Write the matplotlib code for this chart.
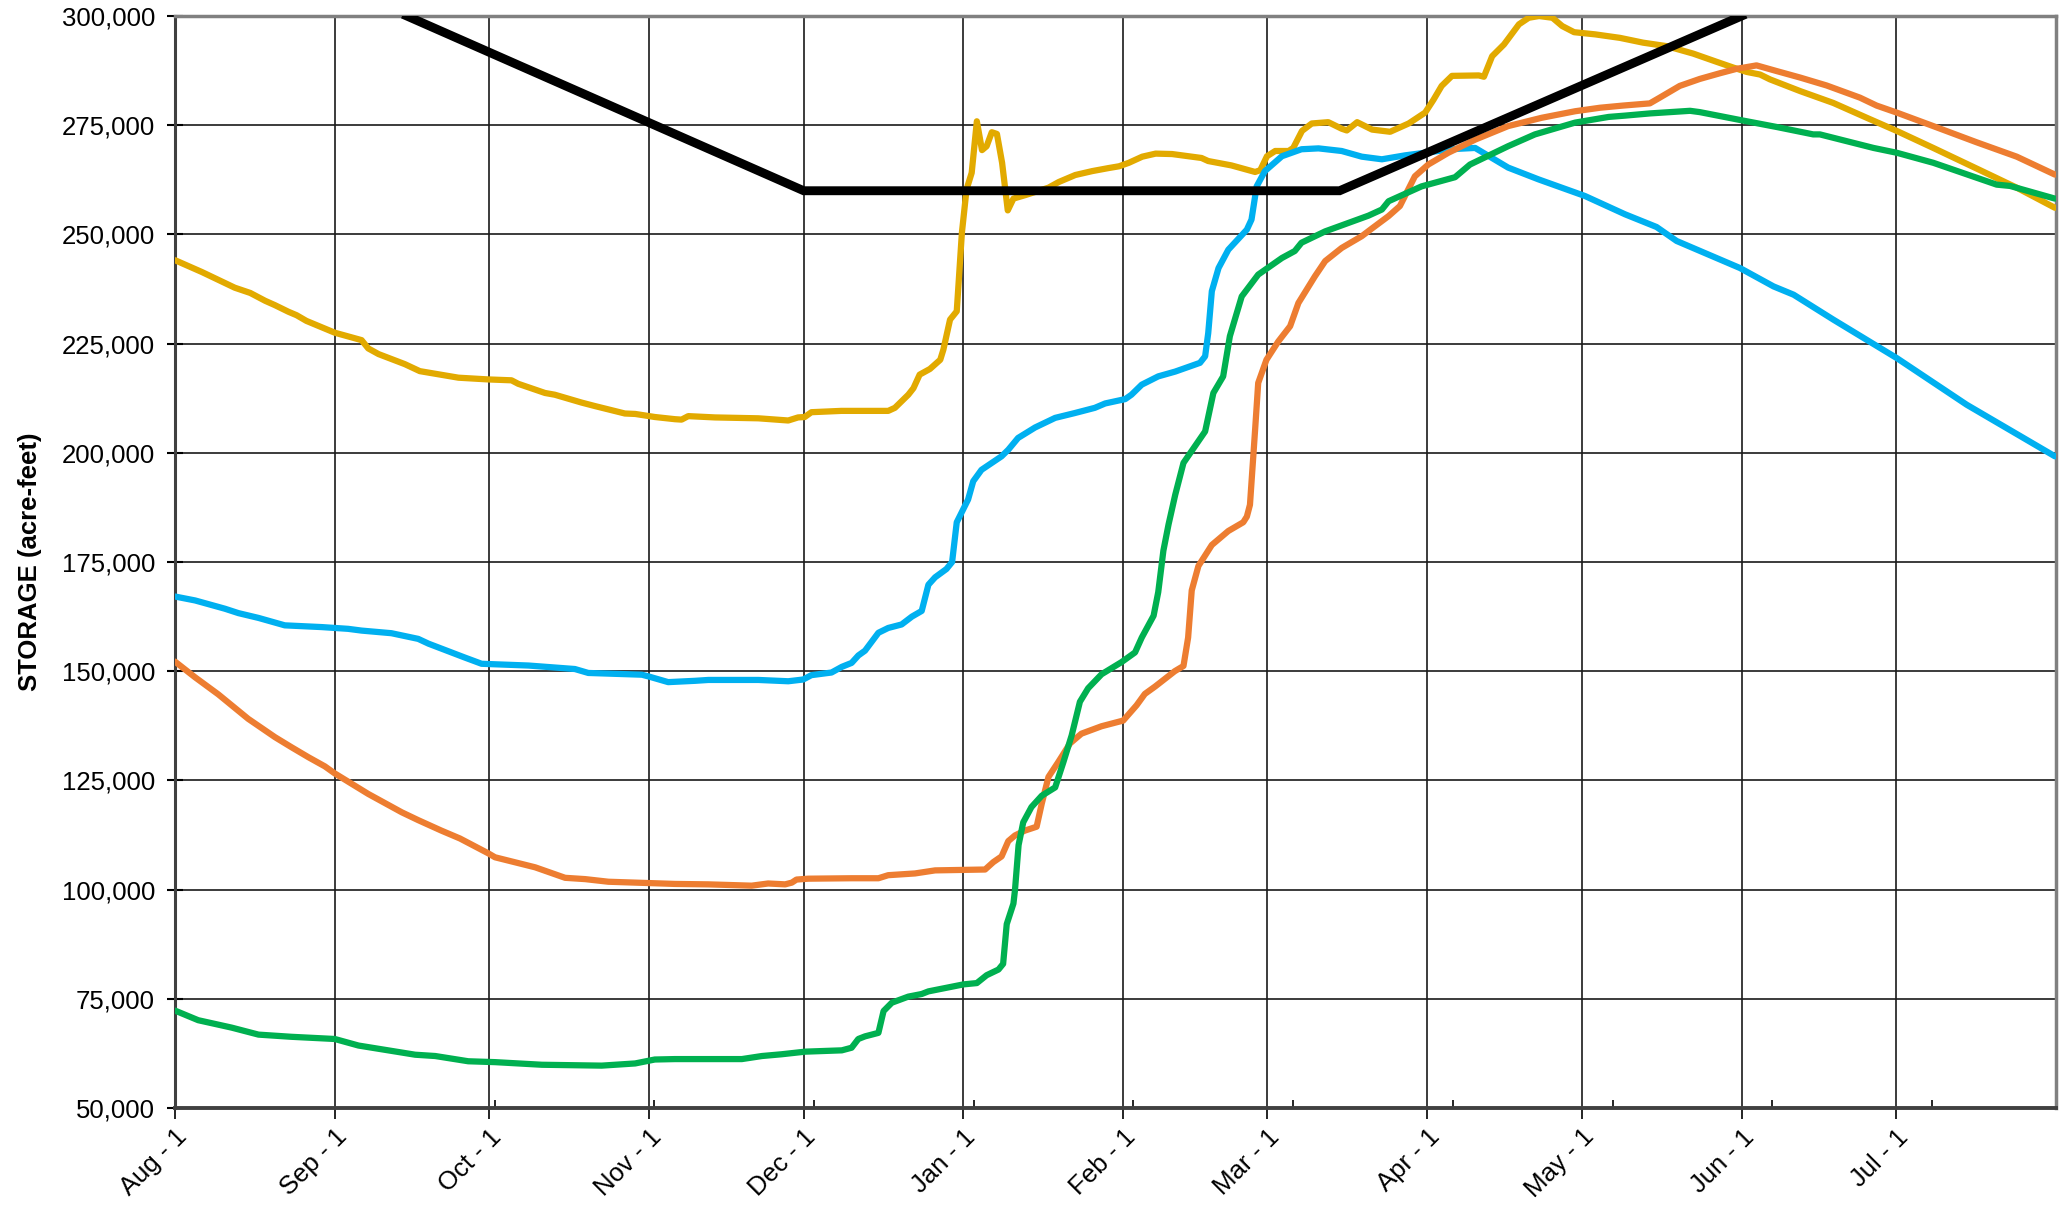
import datetime as dt

import numpy as np
import matplotlib
matplotlib.use('Agg')
import matplotlib.pyplot as plt
import matplotlib.dates as mdates
from matplotlib.ticker import FixedLocator, FuncFormatter, MultipleLocator, StrMethodFormatter

# Season starts Aug 1; x values are days after that date
START = dt.datetime(2018, 8, 1)
END = dt.datetime(2019, 8, 1)

# Flood-control rule curve
rule_days = [45, 122, 226, 304]
rule_vals = [300000, 260000, 260000, 300000]

# Gold series
gold_days = [0, 5.2, 11.6, 14.6, 17.5, 19.4, 22, 23.6, 25.5, 31, 36.2, 37.5, 39.5, 44.6,
             47.5, 51, 55, 60.8, 65.3, 66.6, 71.8, 73.7, 78.9, 81.5, 87.3, 89.3, 93.1, 97,
             98.3, 99.6, 104.8, 113.2, 119, 120.9, 122.2, 123.5, 129.3, 138.4, 139.7, 142.3,
             143.3, 144.5, 146.5, 148.5, 149.1, 150.4, 151.7, 152.7, 153.6, 154.6, 155.6,
             156.6, 157.5, 158.5, 159.5, 160.5, 161.6, 162.7, 165, 169.5, 171.5, 174.7, 178,
             181.2, 183.2, 185.1, 187.7, 190.3, 193.5, 199.2, 200.5, 205, 209.6, 210.6, 211.9,
             213.5, 216.1, 217, 218.7, 220.6, 223.8, 226.4, 227.4, 229.4, 232.3, 235.8, 239.4,
             242.6, 244.2, 245.8, 247.8, 253, 254, 255.6, 257.9, 260.8, 262.7, 264.7, 267.3,
             269.2, 271.5, 275.6, 280.4, 284.9, 289.5, 294.6, 299.2, 302.4, 305, 307.6, 309.5,
             315.4, 321.8, 328.3, 334.1, 341.2, 350.3, 357.4, 364.8]
gold_vals = [244100, 241400, 237800, 236600, 234800, 233800, 232300, 231500, 230200, 227500,
             225800, 223900, 222600, 220300, 218700, 218000, 217200, 216800, 216600, 215800,
             213700, 213300, 211500, 210700, 209000, 208900, 208200, 207700, 207600, 208400,
             208100, 207900, 207400, 208100, 208200, 209300, 209600, 209600, 210300, 213300,
             214800, 217900, 219200, 221300, 223600, 230500, 232400, 250400, 260300, 264100,
             275900, 269300, 270200, 273400, 273000, 266400, 255500, 258200, 259000, 260700,
             262000, 263600, 264500, 265200, 265600, 266400, 267800, 268500, 268400, 267500,
             266800, 265800, 264300, 264700, 267900, 269100, 269100, 269800, 273700, 275400,
             275700, 274200, 273800, 275700, 274000, 273500, 275400, 277900, 280800, 284000,
             286300, 286400, 286100, 290800, 293500, 298100, 299600, 300000, 299600, 297700,
             296300, 295800, 295000, 293900, 293100, 291400, 289500, 288200, 287200, 286600,
             285500, 282800, 280100, 276700, 273700, 269800, 264700, 260700, 256100]

# Orange series
orange_days = [0, 3.9, 8.4, 14.2, 19.4, 22.6, 25.9, 29.1, 31, 37.5, 44, 47.2, 51.7, 55.3,
               60.8, 62.1, 69.9, 75.7, 79.6, 84.1, 91.9, 97, 103.5, 111.9, 115.1, 118.4,
               119.7, 120.6, 122.9, 131.3, 136.5, 138.4, 143.6, 147.5, 157.2, 158.8, 160.4,
               161.7, 163, 164.9, 167.2, 168.2, 169.5, 171.4, 173.7, 175.9, 179.8, 184, 186.6,
               188.2, 190.2, 194, 195.7, 196.6, 197.3, 198.6, 201.2, 204.4, 207.3, 208, 208.6,
               209.6, 210.2, 211.8, 214.1, 216.4, 218, 221.2, 223.2, 226.4, 230.3, 232.2,
               235.5, 237.7, 240.6, 243.2, 247.1, 252.3, 258.7, 265.2, 271.7, 276.5, 281,
               286.2, 288.1, 292, 295.9, 299.8, 303, 306.9, 310.8, 315.4, 320.5, 327, 330.2,
               334.1, 341.2, 349.6, 357.4, 364.8]
orange_vals = [152200, 148600, 144700, 139100, 134900, 132600, 130300, 128200, 126600, 121900,
               117700, 115900, 113500, 111700, 108300, 107400, 105100, 102700, 102400, 101800,
               101500, 101300, 101200, 100900, 101400, 101200, 101600, 102300, 102500, 102600,
               102600, 103300, 103700, 104400, 104600, 106300, 107600, 111100, 112400, 113500,
               114400, 119700, 125800, 129200, 133500, 135700, 137400, 138700, 142200, 144800,
               146500, 150000, 151200, 157700, 168500, 174100, 178900, 182100, 184100, 185400,
               188100, 205300, 216000, 221300, 225500, 229000, 234300, 240400, 243900, 246900,
               249600, 251300, 254200, 256500, 263300, 266000, 268700, 271700, 274800, 276700,
               278200, 279000, 279500, 280000, 281300, 284000, 285600, 286900, 287900, 288700,
               287400, 285900, 284100, 281300, 279500, 277900, 274800, 271100, 267800, 263700]

# Green series
green_days = [0, 4.5, 11, 16.2, 22.6, 31, 35.6, 46.6, 50.5, 56.9, 62.1, 71.2, 82.8, 89.3,
              93.1, 97, 110, 113.9, 117.7, 122.3, 129.4, 131.3, 132.6, 133.9, 136.5, 137.5,
              139.1, 142.3, 144.9, 146.2, 153, 155.6, 157.5, 159.8, 160.7, 161.4, 162.7, 163,
              163.7, 164.6, 166.2, 168.2, 170.8, 172.4, 174, 175.6, 177.2, 179.8, 183.7, 186.3,
              187.6, 189.9, 190.8, 191.8, 192.8, 194.1, 195.7, 199.9, 201.5, 203.4, 204.7, 207,
              210.2, 214.8, 217.3, 218.6, 223.2, 231.6, 234.2, 235.5, 241.9, 248.4, 251.3,
              258.7, 263.9, 271.7, 278.2, 281.4, 286.2, 294, 295.9, 303.7, 310.8, 317.9, 319.2,
              329.6, 334.1, 341.2, 353.5, 356.1, 364.8]
green_vals = [72300, 70100, 68400, 66800, 66300, 65800, 64300, 62200, 61900, 60700, 60500,
              59900, 59700, 60200, 61100, 61200, 61200, 61900, 62300, 62900, 63200, 63800,
              65800, 66400, 67200, 72200, 74100, 75500, 76100, 76700, 78300, 78600, 80400,
              81700, 83000, 92100, 96800, 99900, 110200, 115400, 118900, 121500, 123400, 129200,
              135300, 143000, 146100, 149300, 152100, 154300, 157700, 162700, 168100, 177600,
              183600, 190400, 197700, 204900, 213700, 217500, 226700, 235800, 240800, 244600,
              246200, 248100, 250700, 254300, 255700, 257600, 261000, 263100, 266000, 270200,
              272900, 275600, 276900, 277200, 277700, 278300, 278000, 276200, 274600, 272900,
              272900, 269800, 268700, 266400, 261400, 261100, 258200]

# Blue series
blue_days = [0, 3.9, 9.7, 12.3, 16.2, 21.3, 28.5, 33.6, 36.2, 42, 47.2, 49.2, 56.3, 59.5,
             68.6, 77.6, 80.2, 90.6, 91.9, 95.7, 100.9, 103.5, 113.2, 119, 121.9, 123.5,
             127.4, 129.4, 131.3, 132.6, 133.9, 136.5, 138.4, 141, 143, 144.9, 146.2, 147.5,
             149.7, 150.8, 151.7, 153.9, 154.9, 156.5, 160.4, 161.7, 163.6, 166.9, 170.8,
             174.6, 178.5, 180.5, 184.4, 185.6, 187.6, 190.8, 194.1, 198.9, 199.9, 200.5,
             201.2, 202.5, 204.4, 208, 208.9, 209.9, 211.5, 214.8, 218.6, 221.9, 226.4, 230.3,
             234.2, 238.7, 245.8, 249, 252.3, 258.7, 264.6, 273.6, 281.4, 287.5, 291.4, 303.7,
             310.2, 314.1, 321.8, 334.1, 347.7, 364.8]
blue_vals = [167100, 166200, 164300, 163300, 162200, 160500, 160100, 159700, 159300, 158700,
             157400, 156300, 153100, 151700, 151300, 150500, 149600, 149200, 148800, 147500,
             147800, 148000, 148000, 147700, 148100, 149100, 149700, 151000, 151900, 153600,
             154700, 158800, 159900, 160700, 162500, 163800, 169800, 171500, 173400, 175000,
             184100, 189300, 193500, 196100, 199200, 200700, 203400, 205800, 208000, 209100,
             210300, 211300, 212300, 213300, 215600, 217500, 218600, 220600, 222100, 227400,
             237000, 242300, 246500, 251100, 253400, 261000, 264500, 267900, 269500, 269700,
             269100, 267800, 267200, 268100, 269200, 269600, 269800, 265300, 262600, 258800,
             254600, 251700, 248500, 242300, 238100, 236200, 230500, 221700, 211000, 199200]

YTICK_STEP = 25000
Y_MIN, Y_MAX = 50000, 300000


def to_num(days):
    """Convert day offsets from Aug 1 to matplotlib date numbers"""
    return mdates.date2num(START) + np.asarray(days, dtype=float)


def month_label(x, pos=None):
    d = mdates.num2date(x)
    return f"{d:%b} - {d.day}"


plt.rcParams['font.family'] = ['Liberation Sans', 'DejaVu Sans']

fig = plt.figure(figsize=(20.59, 12.05), dpi=100)
ax = fig.add_axes([0.085, 0.0805, 0.9135, 0.9062])

series = [
    (gold_days, gold_vals, '#E2AA00'),
    (blue_days, blue_vals, '#00B0F0'),
    (orange_days, orange_vals, '#ED7D31'),
    (green_days, green_vals, '#00B050'),
]
for days, vals, col in series:
    ax.plot(to_num(days), vals, color=col, lw=4.5, solid_joinstyle='round',
            solid_capstyle='round', zorder=3)

ax.plot(to_num(rule_days), rule_vals, color='black', lw=6.4, solid_joinstyle='miter', zorder=4)

ax.set_xlim(mdates.date2num(START), mdates.date2num(END))
ax.set_ylim(Y_MIN, Y_MAX)

# month starts Aug .. Jul
month_starts = []
for m in range(12):
    month = (m + 7) % 12 + 1
    month_starts.append(dt.datetime(2018 if month >= 8 else 2019, month, 1))

ax.yaxis.set_major_locator(MultipleLocator(YTICK_STEP))
ax.yaxis.set_major_formatter(StrMethodFormatter('{x:,.0f}'))
ax.xaxis.set_major_locator(FixedLocator(mdates.date2num(month_starts)))
ax.xaxis.set_major_formatter(FuncFormatter(month_label))
ax.xaxis.set_minor_locator(FixedLocator(to_num(np.arange(0, 365, 31))))

ax.grid(True, which='major', color='#1a1a1a', lw=1.2)
ax.set_axisbelow(True)

ax.tick_params(axis='y', which='major', direction='inout', length=11, width=1.5,
               labelsize=18.5, pad=9)
ax.tick_params(axis='x', which='major', direction='out', length=8, width=1.2,
               labelsize=18.5, pad=4)
ax.tick_params(axis='x', which='minor', direction='in', length=6, width=1.2)
for lab in ax.get_xticklabels():
    lab.set_rotation(45)
    lab.set_ha('right')
    lab.set_va('top')
    lab.set_rotation_mode('anchor')

for side in ['top', 'right']:
    ax.spines[side].set_color('#808080')
    ax.spines[side].set_linewidth(2.5)
ax.spines['left'].set_color('#404040')
ax.spines['left'].set_linewidth(2.2)
ax.spines['bottom'].set_color('#404040')
ax.spines['bottom'].set_linewidth(2.8)

ax.set_ylabel('STORAGE (acre-feet)', fontsize=18.5, fontweight='bold', labelpad=14)

fig.savefig('out.png', dpi=100)
